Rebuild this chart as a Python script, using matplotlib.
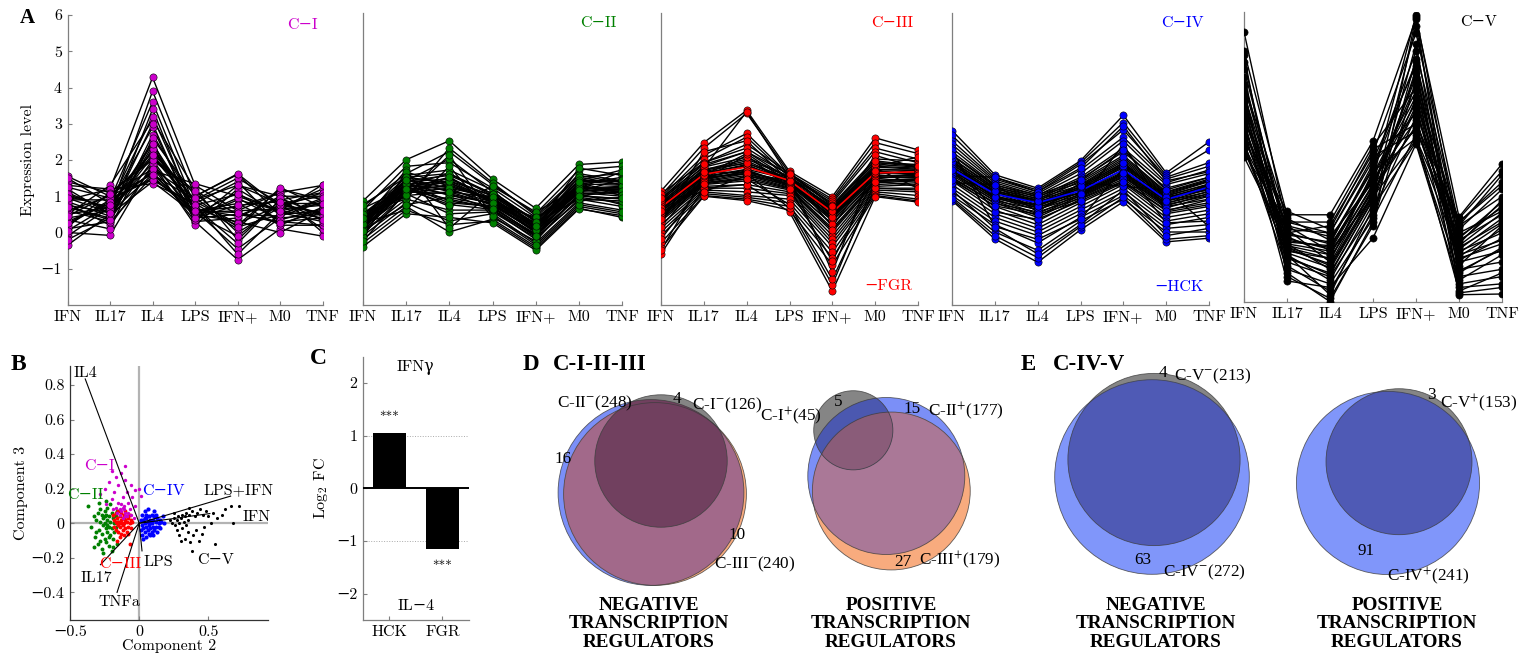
import numpy as np
import matplotlib
matplotlib.use("Agg")
import matplotlib.pyplot as plt
from matplotlib.patches import Circle

#---------------------------
# DATA
#---------------------------
conditions = ["IFN", "IL17", "IL4", "LPS", "IFN+", "M0", "TNF"]

# panel A: expression profiles per cluster (IFN, IL17, IL4, LPS, IFN+, M0, TNF)
c1_lines = [
    [1.55, 1.0, 2.2, 0.9, 1.3, 0.8, 1.0], [1.3, 1.2, 4.28, 1.3, 0.6, 1.1, 1.3],
    [1.1, 0.6, 3.9, 1.0, 1.6, 0.5, 0.6], [0.9, 0.9, 3.6, 0.7, 0.2, 1.2, 0.9],
    [0.7, 0.4, 3.4, 0.5, 1.1, 0.3, 0.2], [0.5, 1.3, 3.1, 1.2, -0.2, 0.9, 1.1],
    [0.3, 0.8, 2.9, 0.4, 0.9, 0.6, 0.4], [0.1, 0.3, 2.7, 0.8, 1.4, 0.2, 0.7],
    [-0.1, 0.7, 2.5, 0.3, 0.4, 1.0, 0.0], [-0.35, 0.5, 2.3, 0.6, -0.45, 0.4, 0.5],
    [1.4, 1.1, 2.0, 1.1, 0.0, 0.7, 1.2], [0.8, 0.2, 1.8, 0.3, -0.75, 0.1, -0.1],
    [0.6, 1.0, 1.6, 0.9, 1.5, 0.8, 0.8], [0.2, 0.9, 1.5, 0.6, 0.7, 1.1, 0.3],
    [1.2, 0.5, 1.4, 0.5, 0.3, 0.0, 0.6], [0.0, -0.08, 1.9, 0.2, 1.2, 0.5, 0.9],
    [0.4, 0.6, 2.1, 0.7, -0.3, 0.9, 0.1], [1.0, 0.7, 1.7, 1.35, 1.0, 0.6, 1.32],
    [-0.2, 0.4, 2.4, 0.4, 0.5, 0.3, 0.4], [0.9, 1.2, 1.35, 0.8, 0.1, 1.24, 0.7],
    [0.35, 0.1, 2.6, 1.0, 1.62, 0.7, 1.1], [1.5, 0.8, 3.2, 0.6, 0.8, 0.2, 0.2],
    [0.6, 0.3, 1.55, 0.5, -0.1, 0.8, 0.5], [0.15, 1.1, 2.05, 1.15, 0.5, 0.45, 0.85],
    [0.75, 0.55, 3.0, 0.35, 1.3, 1.0, 1.0], [1.25, 0.95, 1.45, 0.75, -0.6, 0.55, 0.3],
    [0.5, 0.7, 1.9, 0.55, 0.6, 0.65, 0.75], [0.85, 0.45, 2.3, 0.85, 0.25, 0.75, 0.55],
    [0.25, 0.85, 1.65, 0.45, 0.95, 0.35, 0.65], [1.05, 0.65, 2.45, 0.65, 0.45, 0.95, 0.45],
    [0.45, 1.05, 1.75, 0.95, 0.15, 0.5, 0.95], [0.7, 0.35, 2.0, 0.4, 0.75, 0.85, 0.35],
    [0.05, 0.75, 2.15, 0.75, 1.05, 0.6, 0.8], [0.95, 0.55, 1.6, 0.6, 0.55, 0.25, 0.6],
]
c2_lines = [
    [0.85, 1.98, 2.5, 1.45, 0.65, 1.85, 1.92], [0.7, 1.6, 2.2, 1.3, 0.5, 1.7, 1.8],
    [0.6, 1.8, 1.9, 1.2, 0.4, 1.5, 1.6], [0.5, 1.4, 2.0, 1.1, 0.3, 1.6, 1.4],
    [0.45, 1.5, 1.6, 1.0, 0.35, 1.3, 1.5], [0.4, 1.3, 1.4, 1.0, 0.2, 1.4, 1.3],
    [0.35, 1.2, 1.5, 0.9, 0.25, 1.2, 1.2], [0.3, 1.45, 1.2, 0.95, 0.1, 1.25, 1.1],
    [0.25, 1.1, 1.3, 0.85, 0.15, 1.1, 1.25], [0.2, 1.35, 1.0, 0.8, 0.0, 1.3, 1.0],
    [0.15, 1.0, 1.1, 0.75, 0.05, 1.0, 0.9], [0.1, 1.25, 0.8, 0.7, -0.1, 1.15, 1.15],
    [0.05, 1.15, 0.9, 0.65, -0.05, 0.95, 0.8], [0.0, 0.9, 0.6, 0.6, -0.2, 0.9, 0.7],
    [-0.05, 1.05, 0.5, 0.55, -0.15, 0.85, 0.95], [-0.1, 0.8, 0.3, 0.5, -0.3, 0.8, 0.6],
    [-0.2, 0.7, 0.0, 0.35, -0.4, 0.7, 0.5], [-0.3, 0.6, 0.2, 0.3, -0.45, 0.65, 0.4],
    [-0.4, 0.5, 0.4, 0.25, -0.5, 0.63, 0.45], [0.3, 1.7, 0.1, 1.1, 0.3, 1.4, 1.7],
    [0.55, 0.9, 2.3, 1.35, 0.45, 1.55, 1.35], [0.1, 1.55, 1.7, 1.15, 0.1, 1.75, 1.55],
    [0.25, 0.6, 1.8, 0.4, -0.25, 1.05, 0.75], [-0.15, 1.65, 1.25, 0.9, 0.0, 1.35, 1.05],
    [0.65, 1.2, 0.7, 1.25, 0.55, 1.2, 1.65], [0.4, 1.0, 2.1, 0.45, -0.35, 0.75, 0.55],
    [0.15, 1.4, 1.55, 1.05, 0.2, 1.5, 1.3], [-0.25, 1.1, 1.05, 0.6, -0.1, 1.0, 1.1],
    [0.75, 1.5, 1.35, 0.8, 0.4, 1.1, 1.45], [0.05, 0.75, 0.95, 0.7, 0.25, 0.9, 0.85],
    [0.35, 1.25, 1.35, 0.88, 0.12, 1.22, 1.15], [0.2, 1.3, 1.15, 0.82, 0.08, 1.18, 1.22],
    [0.28, 1.18, 1.25, 0.92, 0.18, 1.28, 1.08], [0.12, 1.22, 1.05, 0.78, -0.02, 1.12, 1.18],
    [0.42, 1.38, 1.45, 0.98, 0.22, 1.32, 1.28], [0.18, 1.08, 1.2, 0.72, 0.02, 1.08, 0.98],
    [0.48, 1.28, 1.6, 1.05, 0.28, 1.42, 1.38], [0.08, 1.32, 0.85, 0.68, -0.08, 1.2, 1.25],
    [0.32, 1.12, 1.4, 0.85, 0.14, 1.05, 1.12], [0.22, 1.42, 1.1, 0.95, 0.06, 1.36, 1.42],
    [0.38, 1.02, 1.5, 0.8, 0.16, 1.16, 1.02], [0.02, 1.18, 0.75, 0.62, -0.12, 0.98, 0.92],
]
c3_lines = [
    [1.12, 2.45, 3.33, 1.66, 0.97, 2.58, 2.25], [1.0, 2.3, 3.25, 1.6, 0.9, 2.45, 2.15],
    [0.95, 2.1, 2.7, 1.55, 0.85, 2.3, 2.0], [0.9, 2.0, 2.6, 1.5, 0.8, 2.2, 1.9],
    [0.85, 1.9, 2.4, 1.62, 0.75, 2.0, 1.95], [0.8, 1.8, 2.2, 1.45, 0.7, 1.9, 1.8],
    [0.75, 1.7, 2.0, 1.5, 0.65, 1.8, 1.75], [0.7, 1.65, 1.9, 1.4, 0.6, 1.7, 1.7],
    [0.65, 1.6, 1.85, 1.35, 0.5, 1.65, 1.6], [0.6, 1.55, 1.8, 1.45, 0.45, 1.6, 1.65],
    [0.55, 1.5, 1.7, 1.3, 0.4, 1.55, 1.55], [0.5, 1.45, 1.65, 1.35, 0.3, 1.5, 1.5],
    [0.45, 1.4, 1.6, 1.25, 0.2, 1.45, 1.6], [0.4, 1.35, 1.5, 1.2, 0.1, 1.4, 1.45],
    [0.35, 1.3, 1.4, 1.15, 0.0, 1.35, 1.4], [0.3, 1.25, 1.3, 1.1, -0.1, 1.3, 1.35],
    [0.2, 1.2, 1.2, 1.05, -0.2, 1.25, 1.3], [0.1, 1.15, 1.1, 1.0, -0.3, 1.2, 1.2],
    [0.0, 1.1, 1.0, 0.9, -0.4, 1.15, 1.1], [-0.1, 1.05, 0.95, 0.8, -0.55, 1.1, 1.0],
    [-0.3, 1.0, 0.9, 0.7, -0.7, 1.05, 0.9], [-0.45, 0.98, 0.86, 0.6, -0.9, 1.0, 0.85],
    [-0.6, 1.2, 1.3, 0.55, -1.62, 0.97, 0.82], [-0.5, 1.5, 1.6, 0.65, -1.45, 1.4, 1.25],
    [-0.2, 1.35, 1.45, 0.75, -1.3, 1.2, 1.15], [0.6, 1.75, 3.3, 1.5, -1.1, 1.9, 1.85],
    [0.25, 2.2, 2.5, 1.4, 0.35, 2.1, 1.75], [1.05, 1.9, 2.3, 1.55, 0.15, 1.8, 2.05],
    [0.15, 1.45, 2.1, 1.2, -0.8, 1.5, 1.5], [0.85, 1.1, 1.55, 1.3, 0.55, 1.75, 1.2],
    [0.72, 1.62, 1.82, 1.38, 0.52, 1.66, 1.6], [0.62, 1.52, 1.72, 1.44, 0.48, 1.58, 1.7],
    [0.78, 1.68, 1.95, 1.42, 0.6, 1.72, 1.68], [0.55, 1.48, 1.6, 1.32, 0.38, 1.52, 1.58],
    [0.82, 1.72, 1.88, 1.48, 0.62, 1.78, 1.72], [0.48, 1.42, 1.68, 1.28, 0.32, 1.48, 1.52],
    [0.88, 1.78, 2.05, 1.52, 0.66, 1.85, 1.78], [0.42, 1.38, 1.55, 1.22, 0.22, 1.42, 1.46],
    [0.66, 1.55, 2.15, 1.36, 0.42, 1.62, 1.62], [0.58, 1.65, 1.62, 1.4, 0.58, 1.68, 1.56],
    [0.35, 1.32, 1.45, 1.18, 0.05, 1.38, 1.42], [0.92, 1.85, 2.2, 1.58, 0.72, 1.95, 1.82],
]
c4_lines = [
    [2.78, 1.57, 1.2, 1.95, 3.2, 1.62, 2.47], [2.65, 1.5, 1.15, 1.9, 3.0, 1.55, 2.25],
    [2.5, 1.45, 1.1, 1.85, 2.8, 1.5, 1.9], [2.4, 1.4, 1.05, 1.7, 2.6, 1.45, 1.8],
    [2.3, 1.35, 1.0, 1.6, 2.5, 1.35, 1.7], [2.2, 1.3, 0.95, 1.5, 2.3, 1.3, 1.6],
    [2.1, 1.25, 0.9, 1.45, 2.2, 1.2, 1.5], [2.0, 1.2, 0.85, 1.4, 2.1, 1.1, 1.45],
    [1.95, 1.15, 0.8, 1.3, 2.0, 1.05, 1.4], [1.9, 1.1, 0.75, 1.25, 1.9, 1.0, 1.3],
    [1.85, 1.05, 0.7, 1.2, 1.85, 0.95, 1.25], [1.8, 1.0, 0.65, 1.15, 1.8, 0.9, 1.2],
    [1.7, 0.95, 0.6, 1.1, 1.7, 0.85, 1.1], [1.65, 0.9, 0.5, 1.05, 1.6, 0.8, 1.05],
    [1.6, 0.85, 0.45, 1.0, 1.55, 0.75, 1.0], [1.5, 0.8, 0.4, 0.95, 1.5, 0.7, 0.9],
    [1.45, 0.7, 0.3, 0.9, 1.4, 0.6, 0.8], [1.4, 0.6, 0.2, 0.8, 1.35, 0.5, 0.7],
    [1.3, 0.5, 0.1, 0.7, 1.3, 0.4, 0.6], [1.2, 0.4, 0.0, 0.6, 1.2, 0.3, 0.5],
    [1.1, 0.3, -0.1, 0.5, 1.1, 0.2, 0.4], [1.0, 0.2, -0.3, 0.4, 1.0, 0.1, 0.2],
    [0.95, 0.0, -0.5, 0.3, 0.9, 0.0, 0.0], [0.86, -0.19, -0.83, 0.06, 0.83, -0.27, -0.17],
    [0.9, -0.1, -0.7, 0.15, 0.95, -0.2, -0.1], [1.15, 0.1, -0.6, 0.2, 1.15, -0.1, 0.1],
    [2.25, 0.15, -0.2, 0.35, 1.75, 0.25, 0.3], [1.55, 1.5, 1.1, 1.75, 2.9, 1.4, 1.65],
    [2.05, 0.55, 0.35, 0.85, 2.4, 0.55, 0.75], [1.35, 1.3, 0.55, 1.35, 1.25, 1.15, 0.15],
    [1.78, 1.08, 0.82, 1.18, 1.76, 0.92, 1.28], [1.68, 0.98, 0.74, 1.08, 1.65, 0.84, 1.18],
    [1.85, 1.12, 0.88, 1.22, 1.82, 0.98, 1.32], [1.62, 0.92, 0.68, 1.02, 1.58, 0.78, 1.12],
    [1.92, 1.18, 0.92, 1.28, 1.95, 1.02, 1.38], [1.55, 0.86, 0.62, 0.98, 1.52, 0.72, 1.05],
    [2.02, 1.22, 0.98, 1.35, 2.05, 1.08, 1.42], [1.48, 0.78, 0.55, 0.92, 1.45, 0.66, 0.98],
    [1.75, 0.95, 0.72, 1.25, 1.88, 0.95, 1.15], [1.7, 1.12, 0.85, 1.05, 1.62, 0.85, 1.3],
    [2.12, 1.28, 1.02, 1.42, 2.25, 1.15, 1.5], [1.42, 0.72, 0.48, 0.85, 1.38, 0.58, 0.88],
]
c5_lines = [
    [5.53, 0.2, -0.5, 1.5, 6.0, -0.2, 0.5], [5.0, 0.5, 0.5, 2.53, 5.9, 0.44, 1.9],
    [4.7, -0.3, -1.0, 1.0, 5.7, -0.8, -0.5], [4.5, 0.0, 0.2, 2.2, 5.5, 0.2, 1.6],
    [4.3, -0.6, -1.3, 0.8, 5.2, -1.2, -1.0], [4.1, 0.4, -0.2, 1.8, 5.0, 0.1, 1.2],
    [3.9, -0.9, -1.6, 0.5, 4.8, -1.5, -1.4], [3.8, 0.1, 0.0, 2.0, 4.6, -0.3, 0.9],
    [3.7, -0.5, -0.7, 1.2, 4.4, -0.9, 0.2], [3.6, -1.1, -1.89, 0.3, 4.2, -1.7, -1.68],
    [3.5, 0.3, 0.3, 2.4, 4.0, 0.3, 1.4], [3.4, -0.2, -0.4, 1.6, 3.9, -0.5, 0.0],
    [3.3, -0.7, -1.1, 0.9, 3.7, -1.0, -0.8], [3.2, 0.2, -0.1, 1.4, 3.6, 0.0, 0.6],
    [3.1, -1.32, -1.5, -0.14, 2.45, -1.4, -1.2], [3.0, -0.4, -0.9, 1.1, 3.4, -0.7, -0.3],
    [2.9, 0.0, -0.3, 1.9, 3.3, 0.2, 1.0], [2.8, -0.8, -1.2, 0.6, 3.2, -1.3, -0.6],
    [2.7, 0.6, 0.1, 2.3, 3.0, 0.4, 1.7], [2.6, -0.1, -0.6, 1.3, 2.9, -0.4, 0.3],
    [2.5, -1.0, -1.4, 0.4, 2.7, -1.6, -1.1], [2.4, 0.1, -0.8, 1.7, 2.6, -0.1, 0.7],
    [2.3, -0.6, -1.7, 0.7, 2.5, -1.1, -0.4], [2.2, 0.3, 0.0, 2.1, 2.8, 0.3, 1.3],
    [2.1, -0.3, -0.5, 1.0, 2.55, -0.6, -0.2], [4.9, -1.2, -1.8, 0.2, 5.95, -1.65, -1.5],
    [3.65, -0.35, -0.6, 1.35, 4.1, -0.45, 0.4], [3.15, -0.15, -0.45, 1.55, 3.75, -0.35, 0.55],
    [2.95, -0.55, -0.95, 1.05, 3.5, -0.75, -0.15], [3.45, -0.45, -0.85, 1.25, 4.3, -0.65, 0.1],
    [2.65, -0.25, -0.35, 1.45, 3.1, -0.25, 0.75], [3.85, -0.65, -1.15, 0.95, 4.5, -1.05, -0.45],
    [2.35, -0.4, -0.7, 1.15, 2.95, -0.55, 0.25], [4.05, -0.05, -0.25, 1.75, 4.7, -0.15, 0.85],
]
fgr_profile = [0.68, 1.58, 1.78, 1.41, 0.54, 1.62, 1.65]
hck_profile = [1.73, 1.04, 0.80, 1.13, 1.71, 0.89, 1.23]

# panel B: PCA scores (component 2, component 3)
c1_pts = [(-0.20, 0.30), (-0.17, 0.27), (-0.13, 0.29), (-0.10, 0.25), (-0.22, 0.24), (-0.06, 0.22),
          (-0.15, 0.22), (-0.03, 0.19), (-0.25, 0.20), (-0.18, 0.18), (-0.09, 0.18), (-0.12, 0.15),
          (-0.05, 0.15), (-0.20, 0.14), (0.01, 0.16), (-0.15, 0.12), (-0.08, 0.12), (-0.24, 0.11),
          (-0.03, 0.10), (-0.11, 0.10), (-0.17, 0.09), (-0.13, 0.07), (-0.10, 0.06), (-0.07, 0.08),
          (-0.14, 0.05), (-0.09, 0.04), (-0.12, 0.03), (-0.06, 0.05), (-0.16, 0.06), (-0.11, 0.08),
          (-0.04, 0.03), (-0.19, 0.08), (0.00, 0.20), (-0.28, 0.17), (-0.10, 0.33), (-0.12, 0.09),
          (-0.08, 0.06), (-0.13, 0.11), (-0.10, 0.04), (-0.14, 0.08)]
c2_pts = [(-0.37, 0.10), (-0.35, -0.02), (-0.33, 0.04), (-0.32, -0.08), (-0.31, 0.02), (-0.30, 0.06),
          (-0.30, -0.12), (-0.29, -0.04), (-0.28, 0.01), (-0.28, 0.08), (-0.27, -0.15), (-0.27, -0.06),
          (-0.26, 0.03), (-0.26, -0.01), (-0.25, 0.07), (-0.25, -0.09), (-0.25, 0.00), (-0.24, -0.03),
          (-0.24, 0.05), (-0.24, -0.11), (-0.23, 0.02), (-0.23, -0.05), (-0.23, 0.09), (-0.22, -0.02),
          (-0.22, 0.04), (-0.22, -0.13), (-0.21, 0.01), (-0.21, -0.07), (-0.20, 0.06), (-0.20, -0.03),
          (-0.20, -0.16), (-0.19, 0.03), (-0.19, -0.09), (-0.18, 0.00), (-0.18, -0.05), (-0.17, 0.04),
          (-0.17, -0.02), (-0.16, -0.12), (-0.16, 0.07), (-0.15, 0.01), (-0.29, 0.12), (-0.26, -0.17),
          (-0.21, 0.11), (-0.33, -0.14), (-0.19, -0.14), (-0.24, 0.13), (-0.27, 0.05), (-0.22, -0.08),
          (-0.31, -0.05), (-0.28, -0.10), (-0.25, 0.04), (-0.23, -0.01)]
c3_pts = [(-0.19, 0.05), (-0.18, -0.02), (-0.18, 0.02), (-0.17, 0.06), (-0.17, -0.04), (-0.16, 0.00),
          (-0.16, 0.03), (-0.15, -0.05), (-0.15, 0.07), (-0.15, 0.01), (-0.14, -0.02), (-0.14, 0.04),
          (-0.13, -0.06), (-0.13, 0.02), (-0.13, 0.06), (-0.12, -0.01), (-0.12, 0.03), (-0.12, -0.04),
          (-0.11, 0.05), (-0.11, 0.00), (-0.10, -0.03), (-0.10, 0.02), (-0.10, 0.07), (-0.09, -0.05),
          (-0.09, 0.01), (-0.09, 0.04), (-0.08, -0.02), (-0.08, 0.03), (-0.07, 0.00), (-0.07, 0.05),
          (-0.06, -0.03), (-0.06, 0.02), (-0.05, 0.01), (-0.16, -0.10), (-0.07, -0.12), (-0.14, -0.08),
          (-0.11, -0.07), (-0.17, 0.01), (-0.13, 0.00), (-0.08, -0.06), (-0.11, 0.03), (-0.15, -0.01)]
c4_pts = [(0.01, 0.02), (0.01, -0.04), (0.02, 0.05), (0.02, -0.01), (0.02, -0.07), (0.03, 0.02),
          (0.03, -0.03), (0.04, 0.07), (0.04, 0.00), (0.04, -0.05), (0.05, 0.03), (0.05, -0.02),
          (0.05, -0.08), (0.06, 0.01), (0.06, -0.04), (0.07, 0.04), (0.07, -0.01), (0.07, -0.06),
          (0.08, 0.02), (0.08, -0.03), (0.09, 0.05), (0.09, 0.00), (0.09, -0.05), (0.10, 0.02),
          (0.10, -0.02), (0.11, 0.04), (0.11, -0.04), (0.12, 0.01), (0.12, -0.02), (0.13, 0.03),
          (0.13, -0.05), (0.14, 0.00), (0.15, 0.02), (0.15, -0.03), (0.16, 0.01), (0.17, 0.04),
          (0.18, 0.00), (0.06, 0.08), (0.03, -0.09), (0.08, -0.07), (0.11, 0.07), (0.05, 0.05),
          (0.10, -0.07), (0.04, 0.03), (0.07, 0.01), (0.12, 0.05), (0.14, -0.02)]
c5_pts = [(0.22, 0.02), (0.24, 0.00), (0.25, 0.03), (0.26, -0.01), (0.27, 0.02), (0.28, 0.04),
          (0.29, 0.00), (0.30, 0.03), (0.31, 0.05), (0.32, 0.01), (0.33, 0.04), (0.34, 0.06),
          (0.35, 0.02), (0.36, 0.05), (0.38, 0.07), (0.40, 0.04), (0.42, 0.06), (0.44, 0.08),
          (0.46, 0.05), (0.48, 0.07), (0.50, 0.04), (0.53, 0.06), (0.56, 0.03), (0.60, 0.05),
          (0.66, 0.10), (0.72, 0.10), (0.68, 0.00), (0.62, 0.08), (0.27, -0.04), (0.29, -0.07),
          (0.31, -0.03), (0.33, -0.09), (0.35, -0.05), (0.37, -0.11), (0.39, -0.07), (0.41, -0.04),
          (0.43, -0.10), (0.45, -0.06), (0.55, -0.12), (0.38, -0.16), (0.30, -0.10), (0.47, -0.02),
          (0.52, 0.00), (0.36, 0.09), (0.25, 0.06), (0.34, -0.01)]

loading_names = ["IL4", "LPS+IFN", "IFN", "LPS", "IL17", "TNFa"]
loading_x = [-0.39, 0.66, 0.51, 0.02, -0.28, -0.16]
loading_y = [0.835, 0.157, 0.056, -0.16, -0.24, -0.40]

# panel C
genes = ["HCK", "FGR"]
log2fc = [1.05, -1.16]
signif = ["***", "***"]

# panels D / E: set sizes and unique counts
neg_sets = {"C-I": 126, "C-II": 248, "C-III": 240}
pos_sets = {"C-I": 45, "C-II": 177, "C-III": 179}
neg_sets_e = {"C-IV": 272, "C-V": 213}
pos_sets_e = {"C-IV": 241, "C-V": 153}
unique_d_neg = [4, 16, 10]
unique_d_pos = [5, 15, 27]
unique_e_neg = [4, 63]
unique_e_pos = [3, 91]

#---------------------------
# STYLE / LAYOUT
#---------------------------
W, H = 1519, 654
SERIF = ["cmr10", "DejaVu Serif"]
TIMES = ["Liberation Serif", "DejaVu Serif"]
plt.rcParams["font.family"] = SERIF
plt.rcParams["mathtext.fontset"] = "cm"
SPINE = "#7f7f7f"
FS = 11.5

cluster_colors = ["#cc00cc", "#008000", "#ff0000", "#0000ff", "#000000"]
cluster_names = ["C\u2212I", "C\u2212II", "C\u2212III", "C\u2212IV", "C\u2212V"]


def box(x0, y0, x1, y1):
    return [x0 / W, 1 - y1 / H, (x1 - x0) / W, (y1 - y0) / H]


def style_axes(ax):
    for s in ["top", "right"]:
        ax.spines[s].set_visible(False)
    for s in ["left", "bottom"]:
        ax.spines[s].set_color(SPINE)
        ax.spines[s].set_linewidth(0.9)
    ax.tick_params(direction="in", length=3, color=SPINE, labelsize=FS, pad=4)


fig = plt.figure(figsize=(W / 100, H / 100), dpi=100)

# overlay in pixel coordinates for letters and Venn diagrams
ov = fig.add_axes([0, 0, 1, 1])
ov.set_xlim(0, W)
ov.set_ylim(H, 0)
ov.set_axis_off()

#---------------------------
# PANEL A
#---------------------------
a_boxes = [(67.5, 15, 322.7, 305), (363, 13, 622, 305), (661, 13, 918, 305),
           (952, 13, 1209, 305), (1244, 12, 1502, 302)]
all_lines = [c1_lines, c2_lines, c3_lines, c4_lines, c5_lines]
xs = np.arange(1, len(conditions) + 1)

for k, (lines, col, name, bx) in enumerate(zip(all_lines, cluster_colors, cluster_names, a_boxes)):
    ax = fig.add_axes(box(*bx))
    style_axes(ax)
    arr = np.array(lines)
    for row in arr:
        ax.plot(xs, row, color="k", lw=1.0, zorder=2)
    if k == 2:
        ax.plot(xs, fgr_profile, color="red", lw=1.2, zorder=3)
        ax.text(6.88, -1.48, "\u2212FGR", color="red", ha="right", va="center", fontsize=FS)
    if k == 3:
        ax.plot(xs, hck_profile, color="blue", lw=1.2, zorder=3)
        ax.text(6.88, -1.52, "\u2212HCK", color="blue", ha="right", va="center", fontsize=FS)
    xx = np.tile(xs, (arr.shape[0], 1)).ravel()
    ax.plot(xx, arr.ravel(), "o", ms=5.2, mfc=col, mec="k", mew=0.4, zorder=4, ls="none")
    ax.set_xlim(1, 7)
    if k == 4:
        ax.set_ylim(-1.9, 6.08)
    else:
        ax.set_ylim(-2, 6)
    ax.set_xticks(xs)
    ax.set_xticklabels(conditions)
    ax.text(6.88, 5.72 if k < 4 else 5.8, name, color=col, ha="right", va="center", fontsize=FS)
    if k == 0:
        yt = list(range(-1, 7))
        ax.set_yticks(yt)
        ax.set_yticklabels([str(v).replace("-", "\u2212") for v in yt])
        ax.set_ylabel("Expression level", fontsize=FS, labelpad=4)
    else:
        ax.set_yticks([])

#---------------------------
# PANEL B
#---------------------------
axB = fig.add_axes(box(70, 366, 268, 620))
style_axes(axB)
axB.spines["left"].set_color("#333333")
axB.spines["bottom"].set_color("#333333")
axB.set_xlim(-0.5, 0.93)
axB.set_ylim(-0.56, 0.91)
axB.axhline(0, color="#b3b3b3", lw=1.6, zorder=0)
axB.axvline(0, color="#b3b3b3", lw=1.6, zorder=0)
for pts, col, sz in [(c2_pts, cluster_colors[1], 8), (c3_pts, cluster_colors[2], 8),
                     (c1_pts, cluster_colors[0], 6), (c4_pts, cluster_colors[3], 9),
                     (c5_pts, cluster_colors[4], 5)]:
    px, py = zip(*pts)
    axB.scatter(px, py, s=sz, color=col, lw=0, zorder=2)
for lx, ly in zip(loading_x, loading_y):
    axB.plot([0, lx], [0, ly], color="k", lw=0.8, zorder=3)
load_label_pos = [(-0.385, 0.87), (0.72, 0.19), (0.845, 0.037), (0.135, -0.225), (-0.31, -0.32), (-0.14, -0.457)]
for nm, (tx, ty) in zip(loading_names, load_label_pos):
    axB.text(tx, ty, nm, ha="center", va="center", fontsize=FS, zorder=4)
clab_pos = [(-0.29, 0.33), (-0.39, 0.163), (-0.134, -0.238), (0.177, 0.188), (0.55, -0.215)]
for nm, col, (tx, ty) in zip(cluster_names, cluster_colors, clab_pos):
    axB.text(tx, ty, nm, color=col, ha="center", va="center", fontsize=FS, zorder=4)
axB.set_xticks([-0.5, 0, 0.5])
axB.set_xticklabels(["\u22120.5", "0", "0.5"])
axB.set_yticks([-0.4, -0.2, 0, 0.2, 0.4, 0.6, 0.8])
axB.set_yticklabels(["\u22120.4", "\u22120.2", "0", "0.2", "0.4", "0.6", "0.8"])
axB.set_xlabel("Component 2", fontsize=FS, labelpad=0)
axB.set_ylabel("Component 3", fontsize=FS, labelpad=2)

#---------------------------
# PANEL C
#---------------------------
axC = fig.add_axes(box(362.7, 356.7, 469, 620))
style_axes(axC)
gx = np.arange(1, len(genes) + 1)
axC.axhline(1, color="#aaaaaa", ls=":", lw=0.7, zorder=0)
axC.axhline(-1, color="#aaaaaa", ls=":", lw=0.7, zorder=0)
axC.bar(gx, log2fc, width=0.62, color="k", zorder=2)
axC.axhline(0, color="k", lw=1.4, zorder=3)
for x, v, s in zip(gx, log2fc, signif):
    axC.text(x, v + 0.28 if v > 0 else v - 0.34, s, ha="center", va="center", fontsize=9.5)
axC.text(1.5, 2.3, "IFN\u03b3", ha="center", va="center", fontsize=FS)
axC.text(1.5, -2.23, "IL\u22124", ha="center", va="center", fontsize=FS)
axC.set_xlim(0.5, 2.5)
axC.set_ylim(-2.5, 2.5)
axC.set_xticks(gx)
axC.set_xticklabels(genes)
axC.set_yticks([-2, -1, 0, 1, 2])
axC.set_yticklabels(["\u22122", "\u22121", "0", "1", "2"])
axC.set_ylabel(r"Log$_2$ FC", fontsize=FS, labelpad=4)

#---------------------------
# PANELS D / E (Venn, pixel coordinates)
#---------------------------
R_SCALE = 5.9  # px per sqrt(count)


def circ(center, n, fc, clip=None, z=1):
    c = Circle(center, R_SCALE * np.sqrt(n), facecolor=fc, edgecolor="none", zorder=z,
               transform=ov.transData)
    ov.add_patch(c)
    if clip is not None:
        c.set_clip_path(clip)
    return c


def outline(center, n):
    ov.add_patch(Circle(center, R_SCALE * np.sqrt(n), facecolor="none", edgecolor="#3c3c3c",
                        lw=0.6, alpha=0.8, zorder=6))


BLUE, ORANGE, GRAY = "#7b8ff7", "#f8ab7e", "#858585"
MAUVE = "#a2698a"

# D negative
cI, cII, cIII = (661, 461), (651, 492.5), (655, 494)
b = circ(cII, neg_sets["C-II"], BLUE)
o = circ(cIII, neg_sets["C-III"], ORANGE, z=2)
circ(cIII, neg_sets["C-III"], MAUVE, clip=b, z=3)
circ(cI, neg_sets["C-I"], GRAY, z=4)
circ(cI, neg_sets["C-I"], "#71405f", clip=b, z=5)
for c, k in [(cI, "C-I"), (cII, "C-II"), (cIII, "C-III")]:
    outline(c, neg_sets[k])

# D positive
pI, pII, pIII = (853.3, 430.3), (886.3, 476), (891.3, 491)
b = circ(pII, pos_sets["C-II"], BLUE)
o = circ(pIII, pos_sets["C-III"], ORANGE, z=2)
circ(pIII, pos_sets["C-III"], "#aa7897", clip=b, z=3)
circ(pI, pos_sets["C-I"], GRAY, z=4)
circ(pI, pos_sets["C-I"], "#4b58b0", clip=b, z=5)
circ(pI, pos_sets["C-I"], "#8a5c79", clip=o, z=5.5)
for c, k in [(pI, "C-I"), (pII, "C-II"), (pIII, "C-III")]:
    outline(c, pos_sets[k])

# E negative / positive
for sets, cIV, cV in [(neg_sets_e, (1152, 477), (1154, 459.5)), (pos_sets_e, (1388, 483), (1399, 461.7))]:
    g = circ(cV, sets["C-V"], GRAY, z=1)
    b = circ(cIV, sets["C-IV"], "#8096fa", z=2)
    circ(cV, sets["C-V"], "#4f5ab5", clip=b, z=3)
    outline(cIV, sets["C-IV"])
    outline(cV, sets["C-V"])

vfont = dict(family=TIMES, fontsize=12.3, va="center", zorder=8)
set_labels = [
    (557, 403, r"C-II$^{-}$(%d)" % neg_sets["C-II"]),
    (692, 405, r"C-I$^{-}$(%d)" % neg_sets["C-I"]),
    (714, 564, r"C-III$^{-}$(%d)" % neg_sets["C-III"]),
    (760, 416, r"C-I$^{+}$(%d)" % pos_sets["C-I"]),
    (928, 411, r"C-II$^{+}$(%d)" % pos_sets["C-II"]),
    (919, 560, r"C-III$^{+}$(%d)" % pos_sets["C-III"]),
    (1174, 376, r"C-V$^{-}$(%d)" % neg_sets_e["C-V"]),
    (1163, 572, r"C-IV$^{-}$(%d)" % neg_sets_e["C-IV"]),
    (1440, 403, r"C-V$^{+}$(%d)" % pos_sets_e["C-V"]),
    (1387, 576, r"C-IV$^{+}$(%d)" % pos_sets_e["C-IV"]),
]
for x, y, s in set_labels:
    ov.text(x, y, s, ha="left", math_fontfamily="stix", **vfont)

count_pos = [(677, 399), (563, 459), (737, 535),
             (838, 402), (912, 409), (903, 562),
             (1163, 373), (1143, 560),
             (1431, 395), (1366, 551)]
counts = unique_d_neg + unique_d_pos + unique_e_neg + unique_e_pos
for (x, y), n in zip(count_pos, counts):
    ov.text(x, y, str(n), ha="center", **vfont)

for cx in [649, 891, 1156, 1397]:
    lab = "NEGATIVE" if cx in (649, 1156) else "POSITIVE"
    ov.text(cx, 624, lab + "\nTRANSCRIPTION\nREGULATORS", ha="center", va="center",
            family=TIMES, fontweight="bold", fontsize=13.8, linespacing=1.14, zorder=8)

# panel letters
ov.text(27, 18, "A", family=TIMES, fontweight="bold", fontsize=15, ha="center", va="center")
ov.text(18, 364, "B", family=TIMES, fontweight="bold", fontsize=17, ha="center", va="center")
ov.text(318, 358, "C", family=TIMES, fontweight="bold", fontsize=17, ha="center", va="center")
ov.text(523, 364, "D", family=TIMES, fontweight="bold", fontsize=16.5, ha="left", va="center")
ov.text(553, 364, "C-I-II-III", family=TIMES, fontweight="bold", fontsize=16.5, ha="left", va="center")
ov.text(1021, 364, "E", family=TIMES, fontweight="bold", fontsize=16.5, ha="left", va="center")
ov.text(1053, 364, "C-IV-V", family=TIMES, fontweight="bold", fontsize=16.5, ha="left", va="center")

fig.savefig("out.png", dpi=100)
